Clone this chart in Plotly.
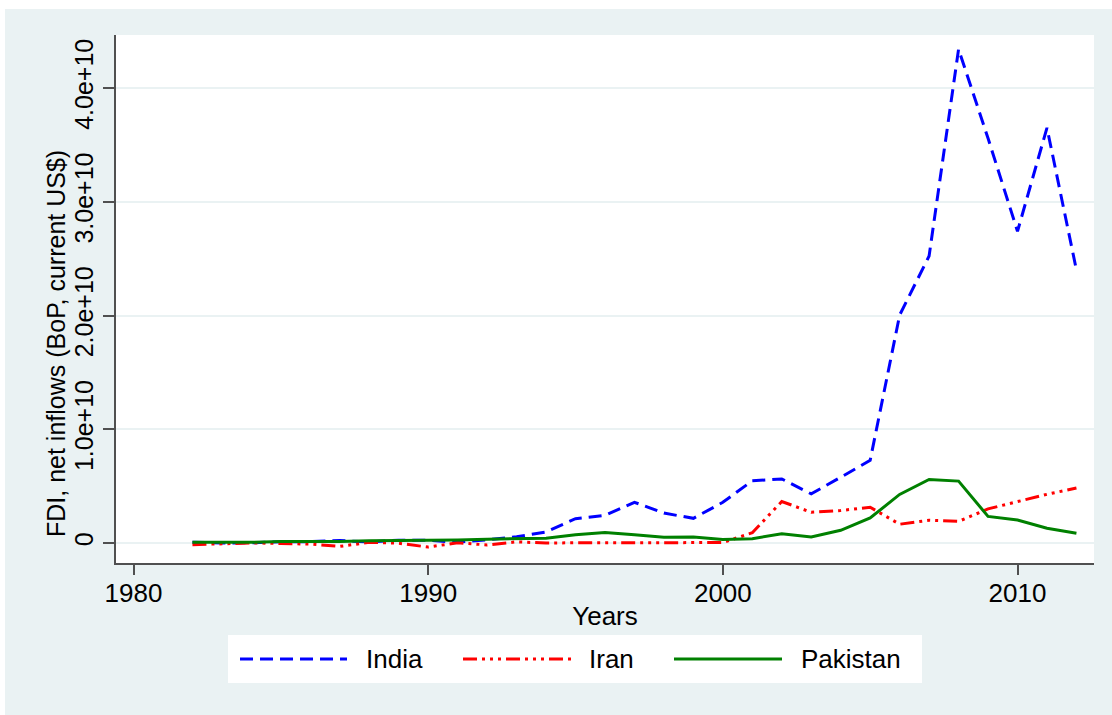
import plotly.graph_objects as go

years = list(range(1982, 2013))

# FDI net inflows, current US$ (billions)
india_bn = [0.07, 0.006, 0.019, 0.106, 0.118, 0.212, 0.091, 0.252, 0.237, 0.074,
            0.277, 0.55, 0.97, 2.14, 2.43, 3.58, 2.63, 2.17, 3.58, 5.47,
            5.63, 4.32, 5.78, 7.27, 20.03, 25.23, 43.41, 35.58, 27.40, 36.50,
            24.0]
iran_bn = [-0.15, -0.05, 0.01, -0.04, -0.10, -0.30, 0.06, -0.02, -0.36, 0.02,
           -0.17, 0.10, 0.002, 0.017, 0.026, 0.053, 0.024, 0.035, 0.039, 0.90,
           3.65, 2.70, 2.86, 3.14, 1.65, 2.00, 1.90, 3.00, 3.65, 4.28,
           4.84]
pakistan_bn = [0.064, 0.03, 0.056, 0.13, 0.11, 0.13, 0.19, 0.21, 0.24, 0.26,
               0.34, 0.35, 0.42, 0.72, 0.92, 0.72, 0.51, 0.53, 0.31, 0.38,
               0.82, 0.53, 1.12, 2.20, 4.27, 5.59, 5.44, 2.34, 2.02, 1.30,
               0.86]

series_names = ["India", "Iran", "Pakistan"]
x_tickvals = [1980, 1990, 2000, 2010]
y_tickvals = [0, 1e10, 2e10, 3e10, 4e10]
y_ticktext = ["0", "1.0e+10", "2.0e+10", "3.0e+10", "4.0e+10"]

W, H = 1112, 715
ML, MR, MT, MB = 116, 18, 35, 152
PW, PH = W - ML - MR, H - MT - MB

def px(x):
    return (x - ML) / PW

def py(y):
    return (H - MB - y) / PH

FONT = "Liberation Sans, Arial, Helvetica, sans-serif"
BG = "#EAF2F3"
colors = {"India": "#0000FF", "Iran": "#FF0000", "Pakistan": "#008000"}
dashes = {"India": "13px,7px",
          "Iran": "14px,5px,3px,5px,3px,5px,3px,5px",
          "Pakistan": "solid"}
data = {"India": india_bn, "Iran": iran_bn, "Pakistan": pakistan_bn}

fig = go.Figure()
for name in series_names:
    fig.add_trace(go.Scatter(
        x=years, y=[v * 1e9 for v in data[name]], mode="lines", name=name,
        line=dict(color=colors[name], width=3, dash=dashes[name]),
        showlegend=False))

shapes = [
    # outer graph region
    dict(type="rect", xref="paper", yref="paper", layer="below",
         x0=px(5), x1=px(W + 5), y0=py(H + 5), y1=py(9),
         fillcolor=BG, line=dict(width=0)),
    # plot region
    dict(type="rect", xref="paper", yref="paper", layer="below",
         x0=0, x1=1, y0=0, y1=1, fillcolor="white", line=dict(width=0)),
    # legend box
    dict(type="rect", xref="paper", yref="paper", layer="above",
         x0=px(228), x1=px(922), y0=py(683), y1=py(635),
         fillcolor="white", line=dict(width=0)),
]
annotations = [
    dict(text="FDI, net inflows (BoP, current US$)", textangle=-90,
         xref="paper", yref="paper", x=px(56), y=py(344),
         xanchor="center", yanchor="middle", showarrow=False,
         font=dict(family=FONT, size=25, color="black")),
]
leg_lines = {"India": (240, 347, 364), "Iran": (463, 571, 587),
             "Pakistan": (674, 782, 799)}
for name in series_names:
    x0, x1, xt = leg_lines[name]
    shapes.append(dict(type="line", xref="paper", yref="paper", layer="above",
                       x0=px(x0), x1=px(x1), y0=py(659), y1=py(659),
                       line=dict(color=colors[name], width=3, dash=dashes[name])))
    annotations.append(dict(text=name, xref="paper", yref="paper",
                            x=px(xt), y=py(659), xanchor="left", yanchor="middle",
                            showarrow=False,
                            font=dict(family=FONT, size=26, color="black")))

fig.update_layout(
    width=W, height=H, autosize=False,
    margin=dict(l=ML, r=MR, t=MT, b=MB, pad=0),
    paper_bgcolor="white", plot_bgcolor="rgba(0,0,0,0)",
    font=dict(family=FONT, size=25, color="black"),
    shapes=shapes, annotations=annotations,
    xaxis=dict(range=[1979.406, 2012.596], tickvals=x_tickvals,
               ticks="outside", ticklen=10, tickwidth=2, tickcolor="#505050",
               showline=True, linecolor="#505050", linewidth=2,
               showgrid=False, zeroline=False, ticklabelstandoff=-4,
               tickfont=dict(family=FONT, size=26, color="black"),
               title=dict(text="Years", standoff=0,
                          font=dict(family=FONT, size=26, color="black"))),
    yaxis=dict(range=[-0.1758e10, 4.466e10], tickvals=y_tickvals,
               ticktext=y_ticktext, tickangle=-90,
               ticks="outside", ticklen=11, tickwidth=2, tickcolor="#505050",
               showline=True, linecolor="#505050", linewidth=2,
               showgrid=True, gridcolor=BG, gridwidth=2, zeroline=False,
               tickfont=dict(family=FONT, size=25, color="black")),
)

fig.write_html("out.html", config={"displayModeBar": False},
               post_script="document.body.style.margin='0';document.body.style.overflow='hidden';")
